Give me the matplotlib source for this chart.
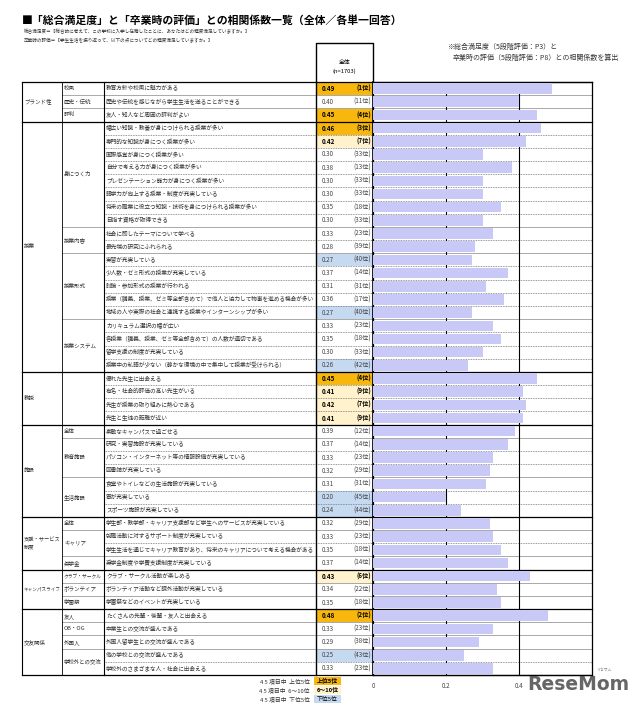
import numpy as np
import matplotlib
matplotlib.use('Agg')
import matplotlib.pyplot as plt
from matplotlib.patches import Rectangle

plt.rcParams['font.family'] = ['Noto Sans CJK JP', 'DejaVu Sans']

# major categories and how many rows each spans
majors = ['ブランド性', '授業', '教授', '施設', '支援・サービス\n制度', 'キャンパスライフ', '交友関係']
major_n = [3, 19, 4, 7, 4, 3, 5]

# sub categories and how many rows each spans
subs = ['校風', '歴史・伝統', '評判', '身につく力', '授業内容', '授業形式', '授業システム', '',
        '全体', '教育施設', '生活施設', '全体', 'キャリア', '奨学金',
        'クラブ・サークル', 'ボランティア', '学園祭', '友人', 'OB・OG', '外国人', '学校外との交流']
sub_n = [1, 1, 1, 8, 2, 5, 4, 4, 1, 3, 3, 1, 2, 1, 1, 1, 1, 1, 1, 1, 2]

items = [
    '教育方針や校風に魅力がある',
    '歴史や伝統を感じながら学生生活を送ることができる',
    '友人・知人など周囲の評判がよい',
    '幅広い知識・教養が身につけられる授業が多い',
    '専門的な知識が身につく授業が多い',
    '国際感覚が身につく授業が多い',
    '自分で考える力が身につく授業が多い',
    'プレゼンテーション能力が身につく授業が多い',
    '語学力が向上する授業・制度が充実している',
    '将来の職業に役立つ知識・技術を身につけられる授業が多い',
    '目指す資格が取得できる',
    '社会に即したテーマについて学べる',
    '最先端の研究にふれられる',
    '実習が充実している',
    '少人数・ゼミ形式の授業が充実している',
    '討論・参加形式の授業が行われる',
    '授業（講義、授業、ゼミ等全部含めて）で他人と協力して物事を進める機会が多い',
    '地域の人や実際の社会と連携する授業やインターンシップが多い',
    'カリキュラム選択の幅が広い',
    '各授業（講義、授業、ゼミ等全部含めて）の人数が適切である',
    '留学支援の制度が充実している',
    '授業中の私語が少ない（静かな環境の中で集中して授業が受けられる）',
    '優れた先生に出会える',
    '有名・社会的評価の高い先生がいる',
    '先生が授業の取り組みに熱心である',
    '先生と生徒の距離が近い',
    '素敵なキャンパスで過ごせる',
    '研究・実習施設が充実している',
    'パソコン・インターネット等の情報設備が充実している',
    '図書館が充実している',
    '食堂やトイレなどの生活施設が充実している',
    '寮が充実している',
    'スポーツ施設が充実している',
    '学生部・教学部・キャリア支援部など学生へのサービスが充実している',
    '就職活動に対するサポート制度が充実している',
    '学生生活を通じてキャリア教育があり、将来のキャリアについて考える機会がある',
    '奨学金制度や学費支援制度が充実している',
    'クラブ・サークル活動が楽しめる',
    'ボランティア活動など課外活動が充実している',
    '学園祭などのイベントが充実している',
    'たくさんの先輩・後輩・友人と出会える',
    '卒業生との交流が盛んである',
    '外国人留学生との交流が盛んである',
    '他の学校との交流が盛んである',
    '学校外のさまざまな人・社会に出会える',
]

values = [0.49, 0.40, 0.45, 0.46, 0.42, 0.30, 0.38, 0.30, 0.30, 0.35, 0.30,
          0.33, 0.28, 0.27, 0.37, 0.31, 0.36, 0.27, 0.33, 0.35, 0.30, 0.26,
          0.45, 0.41, 0.42, 0.41, 0.39, 0.37, 0.33, 0.32, 0.31, 0.20, 0.24,
          0.32, 0.33, 0.35, 0.37, 0.43, 0.34, 0.35, 0.48, 0.33, 0.29, 0.25, 0.33]
ranks = [1, 11, 4, 3, 7, 33, 13, 33, 33, 18, 33, 23, 39, 40, 14, 31, 17, 40,
         23, 18, 33, 42, 4, 9, 7, 9, 12, 14, 23, 29, 31, 45, 44, 29, 23, 18,
         14, 6, 22, 18, 2, 23, 38, 43, 23]

n = len(items)
top_col = '#F7B70C'
mid_col = '#FFF2CC'
low_col = '#C5D9F1'
bar_col = '#C9C9F7'

W, H = 640, 706
fig = plt.figure(figsize=(6.4, 7.06), dpi=100)
cv = fig.add_axes([0, 0, 1, 1])
cv.set_xlim(0, W)
cv.set_ylim(H, 0)
cv.axis('off')

y0, y1 = 82, 675
rh = (y1 - y0) / n
xL, xC1, xC2, xV1, xV2, xR = 22, 62, 104, 316, 373, 592

def ry(i):
    return y0 + i * rh

# font size that keeps a label inside its column
def fit(s, width):
    longest = max(len(p) for p in s.split('\n')) if s else 1
    return min(4.0, width / (longest * 1.39))

# title and notes
cv.text(22, 20, '■「総合満足度」と「卒業時の評価」との相関係数一覧（全体／各単一回答）',
        fontsize=7.8, fontweight='bold', va='center', ha='left')
cv.text(24, 32, '総合満足度＝【総合的に考えて、この学校に入学し在籍したことに、あなたはどの程度満足していますか。】',
        fontsize=3.3, va='center', color='#333333')
cv.text(24, 41, '卒業時の評価＝【学生生活を振り返って、以下の点についてどの程度満足していますか。】',
        fontsize=3.3, va='center', color='#333333')
cv.text(447, 47, '※総合満足度（5段階評価：P3）と', fontsize=5.0, va='center', color='#333333')
cv.text(453, 58, '卒業時の評価（5段階評価：P8）との相関係数を算出', fontsize=5.0, va='center', color='#333333')

# header box
cv.plot([xV1, xV1, xV2, xV2], [y0, 43, 43, y0], color='black', lw=1.0)
cv.text((xV1 + xV2) / 2, 62, '全体', fontsize=4.2, ha='center', va='center')
cv.text((xV1 + xV2) / 2, 71, '(n=1703)', fontsize=4.2, ha='center', va='center')

# value cells and item texts
for i in range(n):
    r = ranks[i]
    if r <= 5:
        fc = top_col
    elif r <= 10:
        fc = mid_col
    elif r >= 40:
        fc = low_col
    else:
        fc = None
    if fc:
        cv.add_patch(Rectangle((xV1, ry(i)), xV2 - xV1, rh, facecolor=fc, edgecolor='none', zorder=1))
    bold = 'bold' if r <= 10 else 'normal'
    tc = 'black' if r <= 10 else '#444444'
    cy = ry(i) + rh / 2
    cv.text(328, cy, '%.2f' % values[i], fontsize=4.5, ha='center', va='center', fontweight=bold, color=tc, zorder=3)
    cv.text(xV2 - 2, cy, '(%d位)' % r, fontsize=4.5, ha='right', va='center', fontweight=bold, color=tc, zorder=3)
    cv.text(xC2 + 2, cy, items[i], fontsize=4.1, ha='left', va='center', color='#333333', zorder=3)

# row lines
for i in range(1, n):
    cv.plot([xC2, xR], [ry(i), ry(i)], color='#777777', lw=0.6, ls=(0, (1, 1)), zorder=2)

# sub category labels and lines
pos = 0
for s, k in zip(subs, sub_n):
    cv.text(xC1 + 2, ry(pos) + k * rh / 2, s, fontsize=fit(s, 38), ha='left', va='center', color='#333333')
    if pos > 0:
        cv.plot([xC1, xR], [ry(pos), ry(pos)], color='#AAAAAA', lw=0.7, zorder=2)
    pos += k

# major category labels and lines
pos = 0
for m, k in zip(majors, major_n):
    cv.text(xL + 2, ry(pos) + k * rh / 2, m, fontsize=fit(m, 37), ha='left', va='center', color='#333333',
            linespacing=1.6)
    cv.plot([xL, xR], [ry(pos), ry(pos)], color='black', lw=0.9, zorder=4)
    pos += k
cv.plot([xL, xR], [y1, y1], color='black', lw=0.9, zorder=4)

# vertical lines
cv.plot([xL, xL], [y0, y1], color='black', lw=0.8)
cv.plot([xC1, xC1], [y0, y1], color='black', lw=0.6)
cv.plot([xC2, xC2], [y0, y1], color='black', lw=0.8)
cv.plot([xV1, xV1], [y0, y1], color='black', lw=1.0, zorder=4)
cv.plot([xV2, xV2], [y0, y1], color='black', lw=1.2, zorder=4)

# bar chart
ax = fig.add_axes([xV2 / W, 1 - y1 / H, (xR - xV2) / W, (y1 - y0) / H])
ax.set_facecolor('none')
ax.barh(np.arange(n) + 0.5, values, height=0.8, color=bar_col, zorder=3)
ax.set_xlim(0, 0.6)
ax.set_ylim(n, 0)
ax.set_yticks([])
ax.set_xticks([0, 0.2, 0.4])
ax.set_xticklabels(['0', '0.2', '0.4'], fontsize=4.5, color='#444444')
ax.tick_params(axis='x', length=0, pad=5)
for gx in [0.2, 0.4]:
    ax.axvline(gx, color='black', lw=0.8, zorder=1)
for sp in ax.spines.values():
    sp.set_color('black')
    sp.set_linewidth(0.9)

# legend
leg = [('4 5 項目中  上位5位', '上位5位', top_col, 'bold'),
       ('4 5 項目中  6～10位', '6～10位', mid_col, 'bold'),
       ('4 5 項目中  下位5位', '下位5位', low_col, 'normal')]
for j, (lab, box, fc, fw) in enumerate(leg):
    yy = 681 + j * 9
    cv.text(310, yy, lab, fontsize=4.2, ha='right', va='center', color='#333333')
    cv.add_patch(Rectangle((314, yy - 4), 27, 8, facecolor=fc, edgecolor='none'))
    cv.text(327.5, yy, box, fontsize=4.2, ha='center', va='center', fontweight=fw, color='black')

# watermark
cv.text(578, 684, 'ReseMom', fontsize=13.5, fontweight='bold', ha='center', va='center',
        color='#666666', family='DejaVu Sans', zorder=6)
cv.text(612, 670, 'リセマム', fontsize=2.8, ha='right', va='center', color='#777777', zorder=6)

fig.savefig('out.png', dpi=100)
